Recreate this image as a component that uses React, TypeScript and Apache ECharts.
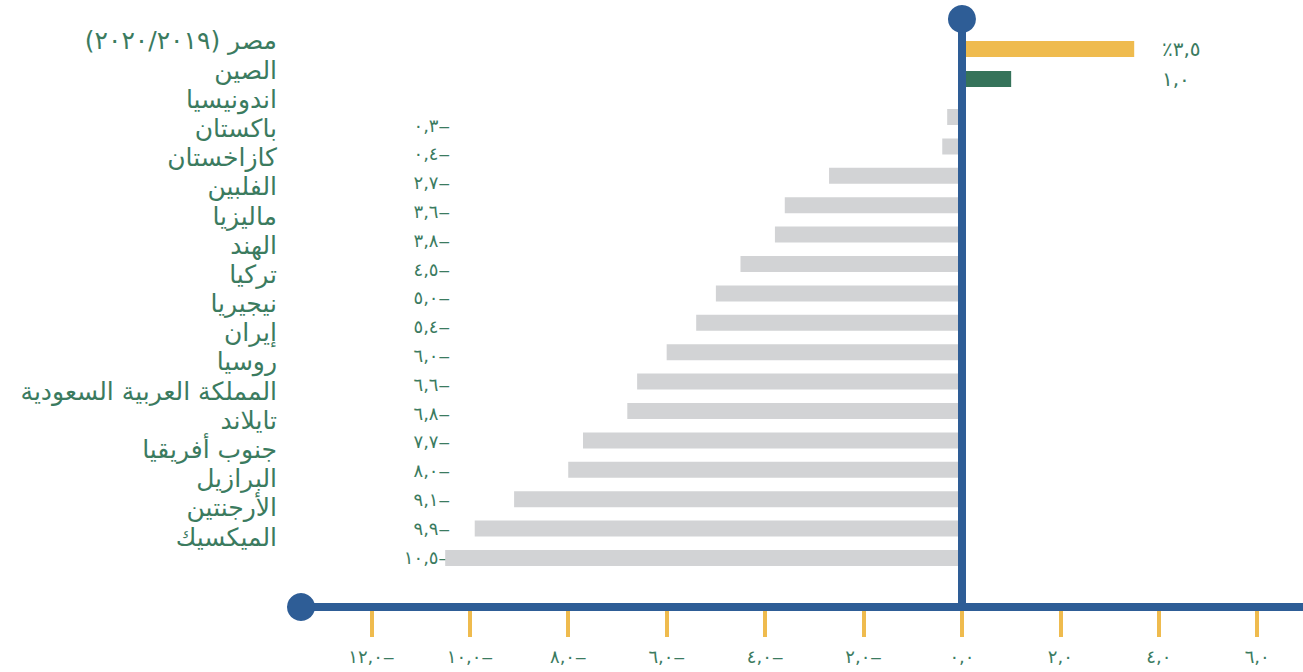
import React, { useEffect, useRef } from "react";
import * as echarts from "echarts";

// ---- data ----
const countries: string[] = [
  "مصر (٢٠٢٠/٢٠١٩)",
  "الصين",
  "اندونيسيا",
  "باكستان",
  "كازاخستان",
  "الفلبين",
  "ماليزيا",
  "الهند",
  "تركيا",
  "نيجيريا",
  "إيران",
  "روسيا",
  "المملكة العربية السعودية",
  "تايلاند",
  "جنوب أفريقيا",
  "البرازيل",
  "الأرجنتين",
  "الميكسيك",
];
const growth: number[] = [
  3.5, 1.0, -0.3, -0.4, -2.7, -3.6, -3.8, -4.5, -5.0, -5.4, -6.0, -6.6, -6.8, -7.7, -8.0, -9.1, -9.9, -10.5,
];
const xTicks: number[] = [-12, -10, -8, -6, -4, -2, 0, 2, 4, 6];
const AXIS_MIN = -13.43;
const AXIS_MAX = 6.93;

// ---- style ----
const BLUE = "#2e5d96";
const YELLOW = "#efbb4e";
const GREEN = "#35735a";
const GRAY = "#d2d3d5";
const TEXT = "#3b7b5f";
const FONT = "DejaVu Sans";

const arabicDigits = "٠١٢٣٤٥٦٧٨٩";
function toArabicNum(v: number): string {
  const s = Math.abs(v)
    .toFixed(1)
    .replace(/\d/g, (d) => arabicDigits[Number(d)])
    .replace(".", ",");
  return v < 0 ? s + "‒" : s;
}
const rtl = (s: string) => "\u200F" + s + "\u200F";

const topCount = growth.filter((v) => v > 0).length;
const topCats = countries.slice(0, topCount);
const topVals = growth.slice(0, topCount);
const bottomCats = countries.slice(topCount);
const bottomVals = growth.slice(topCount);

export default function App() {
  const ref = useRef<HTMLDivElement>(null);
  useEffect(() => {
    if (!ref.current) return;
    const chart = echarts.init(ref.current, undefined, { renderer: "svg" });
    const hiddenX = (gridIndex: number) => ({
      gridIndex,
      type: "value",
      min: AXIS_MIN,
      max: AXIS_MAX,
      show: false,
    });
    const labelOnlyY = (gridIndex: number, data: string[], extra: any) => ({
      gridIndex,
      type: "category",
      data,
      inverse: true,
      axisLine: { show: false },
      axisTick: { show: false },
      splitLine: { show: false },
      ...extra,
    });
    chart.setOption({
      animation: false,
      backgroundColor: "#ffffff",
      textStyle: { fontFamily: FONT },
      grid: [
        { left: 301, right: 0, top: 34, height: 60 },
        { left: 301, right: 0, top: 102.3, height: 470.4 },
        { left: 301, right: 0, top: 19, height: 588 },
        { left: 301, right: 0, top: 26.4, height: 525.2 },
        { left: 301, right: 0, top: 110.6, height: 460.8 },
      ],
      xAxis: [
        hiddenX(0),
        hiddenX(1),
        {
          gridIndex: 2,
          type: "value",
          min: AXIS_MIN,
          max: AXIS_MAX,
          position: "bottom",
          z: 10,
          axisLine: {
            show: true,
            onZero: false,
            symbol: ["circle", "none"],
            symbolSize: [28, 28],
            lineStyle: { color: BLUE, width: 8 },
          },
          axisTick: { show: false },
          axisLabel: { show: false },
          splitLine: { show: false },
        },
        {
          gridIndex: 2,
          type: "value",
          min: AXIS_MIN,
          max: AXIS_MAX,
          position: "bottom",
          offset: 4,
          axisLine: { show: false, onZero: false },
          axisTick: {
            show: true,
            customValues: xTicks,
            length: 26,
            lineStyle: { color: YELLOW, width: 4 },
          },
          axisLabel: {
            show: true,
            customValues: xTicks,
            formatter: (v: number) => toArabicNum(v),
            margin: 36,
            fontSize: 18,
            color: TEXT,
            fontFamily: FONT,
          },
          splitLine: { show: false },
        },
        hiddenX(3),
        hiddenX(4),
      ],
      yAxis: [
        { gridIndex: 0, type: "category", data: topCats, inverse: true, show: false },
        labelOnlyY(0, topCats, {
          position: "right",
          offset: -141,
          axisLabel: {
            interval: 0,
            margin: 0,
            fontSize: 20,
            color: TEXT,
            fontFamily: FONT,
            formatter: (_v: string, i: number) => (i === 0 ? "٪" : "") + toArabicNum(topVals[i]),
          },
        }),
        { gridIndex: 1, type: "category", data: bottomCats, inverse: true, show: false },
        {
          gridIndex: 2,
          type: "value",
          min: 0,
          max: 1,
          z: 10,
          axisLine: {
            show: true,
            onZero: true,
            symbol: ["none", "circle"],
            symbolSize: [28, 28],
            lineStyle: { color: BLUE, width: 8 },
          },
          axisTick: { show: false },
          axisLabel: { show: false },
          splitLine: { show: false },
        },
        labelOnlyY(3, countries, {
          position: "left",
          axisLabel: {
            interval: 0,
            margin: 24,
            fontSize: 25,
            color: TEXT,
            fontFamily: FONT,
            formatter: (v: string) => rtl(v),
          },
        }),
        labelOnlyY(4, bottomCats, {
          position: "left",
          offset: -149,
          axisLabel: {
            interval: 0,
            margin: 0,
            fontSize: 18,
            color: TEXT,
            fontFamily: FONT,
            formatter: (_v: string, i: number) => toArabicNum(bottomVals[i]),
          },
        }),
      ],
      series: [
        {
          type: "bar",
          xAxisIndex: 0,
          yAxisIndex: 0,
          barWidth: 16,
          data: topVals.map((v, i) => ({
            value: v,
            itemStyle: { color: i === 0 ? YELLOW : GREEN },
          })),
        },
        {
          type: "bar",
          xAxisIndex: 1,
          yAxisIndex: 2,
          barWidth: 16,
          itemStyle: { color: GRAY },
          data: bottomVals,
        },
      ],
    });
    return () => chart.dispose();
  }, []);
  return (
    <div
      ref={ref}
      style={{ position: "fixed", left: 0, top: 0, width: 1303, height: 672 }}
    />
  );
}
